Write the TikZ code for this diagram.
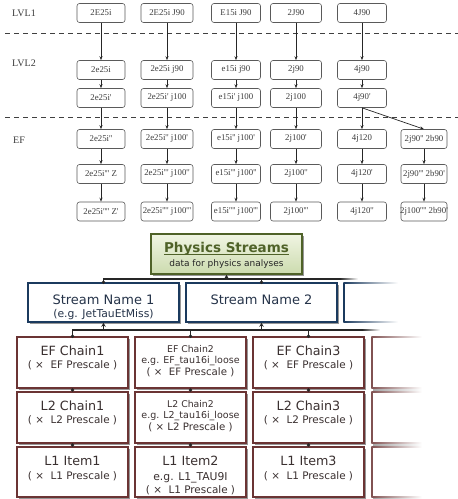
\documentclass[tikz,border=0pt]{standalone}
\usepackage{fontspec}
\setmainfont{DejaVu Sans}
\newfontfamily\tsf{Liberation Serif}
\usetikzlibrary{arrows.meta,shadows,calc}
\definecolor{tline}{HTML}{5A5A5A}
\definecolor{ttext}{HTML}{3C3C3C}
\definecolor{navyc}{HTML}{1B3A5E}
\definecolor{navyt}{HTML}{26344A}
\definecolor{maroonc}{HTML}{6B3434}
\definecolor{chaint}{HTML}{3A3030}
\definecolor{olivec}{HTML}{4F6228}
\definecolor{phtop}{HTML}{F0F5E3}
\definecolor{phbot}{HTML}{CCDBAE}
\newcommand\tbx[5]{\node[tbox,minimum width=#4pt] (#1) at (#2,#3) {\makebox[0pt]{#5}};}
\newcommand\lnx[5]{\node[lnode,font=\fontsize{#4}{#4}\selectfont] (#1) at (#2,#3) {#5};}
\begin{document}
\begin{tikzpicture}[x=1pt,y=-1pt,
 tbox/.style={draw=tline, rounded corners=2.5pt, line width=0.6pt, minimum height=19pt, inner sep=0pt, font=\tsf\fontsize{8.8}{9}\selectfont, text=ttext},
 tarr/.style={-{Stealth[length=4pt,width=3pt]}, line width=0.7pt, black!85},
 sepline/.style={dash pattern=on 5pt off 4pt, line width=0.6pt, black!75},
 lvl/.style={font=\tsf\fontsize{10}{11}\selectfont, text=ttext, inner sep=0pt},
 shd/.style={drop shadow={shadow xshift=1.5pt,shadow yshift=-1.5pt,fill=black!45,opacity=0.9}},
 psbox/.style={draw=olivec, line width=1.5pt, top color=phtop, bottom color=phbot, minimum width=151pt, minimum height=40pt, inner sep=0pt, shd},
 stbox/.style={draw=navyc, line width=1.6pt, fill=white, minimum width=151pt, minimum height=39pt, inner sep=0pt, shd},
 chbox/.style={draw=maroonc, line width=1.6pt, fill=white, minimum width=111pt, inner sep=0pt, shd},
 lnode/.style={anchor=base, inner sep=0pt, text=chaint},
 conn/.style={line width=1.1pt, black!85},
 carr/.style={conn, -{Stealth[length=4pt,width=4.5pt]}},
 dot/.style={black!85}
]
\fill[white] (0,0) rectangle (458,499);
\useasboundingbox (0,0) rectangle (458,499);

% ---------- top: trigger chain table ----------
\node[lvl] (lv1) at (24,13) {LVL1};
\node[lvl] (lv2) at (24,63) {LVL2};
\node[lvl] (lef) at (19,140) {EF};
\draw[sepline] (5,33) -- (458,33);
\draw[sepline] (5,117) -- (458,117);

\tbx{tA1}{101}{13}{48}{2E25i}
\tbx{tA2}{167}{13}{52}{2E25i J90}
\tbx{tA3}{236}{13}{49}{E15i J90}
\tbx{tA4}{296}{13}{51}{2J90}
\tbx{tA5}{362}{13}{49}{4J90}

\tbx{tB1}{101}{70}{48}{2e25i}
\tbx{tB2}{167}{70}{52}{2e25i j90}
\tbx{tB3}{236}{70}{49}{e15i j90}
\tbx{tB4}{296}{70}{51}{2j90}
\tbx{tB5}{362}{70}{49}{4j90}

\tbx{tC1}{101}{98}{48}{2e25i'}
\tbx{tC2}{167}{98}{52}{2e25i' j100}
\tbx{tC3}{236}{98}{49}{e15i' j100}
\tbx{tC4}{296}{98}{51}{2j100}
\tbx{tC5}{362}{98}{49}{4j90'}

\tbx{tD1}{101}{139}{48}{2e25i''}
\tbx{tD2}{167}{139}{52}{2e25i'' j100'}
\tbx{tD3}{236}{139}{49}{e15i'' j100'}
\tbx{tD4}{296}{139}{51}{2j100'}
\tbx{tD5}{362}{139}{49}{4j120}
\tbx{tD6}{424}{139}{46}{2j90'' 2b90}

\tbx{tE1}{101}{174}{48}{2e25i''' Z}
\tbx{tE2}{167}{174}{52}{2e25i''' j100''}
\tbx{tE3}{236}{174}{49}{e15i''' j100''}
\tbx{tE4}{296}{174}{51}{2j100''}
\tbx{tE5}{362}{174}{49}{4j120'}
\tbx{tE6}{424}{174}{46}{2j90''' 2b90'}

\tbx{tF1}{101}{211.5}{48}{2e25i'''' Z'}
\tbx{tF2}{167}{211.5}{52}{2e25i'''' j100'''}
\tbx{tF3}{236}{211.5}{49}{e15i'''' j100'''}
\tbx{tF4}{296}{211.5}{51}{2j100'''}
\tbx{tF5}{362}{211.5}{49}{4j120''}
\tbx{tF6}{424}{211.5}{46}{2j100'''' 2b90'}

\foreach \c in {1,...,5}{
  \draw[tarr] (tA\c.south) -- (tB\c.north);
  \draw[tarr] (tB\c.south) -- (tC\c.north);
  \draw[tarr] (tC\c.south) -- (tD\c.north);
  \draw[tarr] (tD\c.south) -- (tE\c.north);
  \draw[tarr] (tE\c.south) -- (tF\c.north);
}
\draw[tarr] (tC5.south) -- (tD6.north);
\draw[tarr] (tD6.south) -- (tE6.north);
\draw[tarr] (tE6.south) -- (tF6.north);

% ---------- bottom: physics streams ----------
\node[psbox] (ps) at (226.5,254) {};
\node[anchor=base, inner sep=0pt, text=olivec, font=\bfseries\fontsize{13.5}{14}\selectfont] (pst) at (226.5,252.5) {Physics Streams};
\draw[olivec, line width=0.9pt] (pst.west |- 0,254.8) -- (pst.east |- 0,254.8);
\node[anchor=base, inner sep=0pt, text=black!85, font=\fontsize{9}{9}\selectfont] (pss) at (226.5,266.5) {data for physics analyses};

\node[stbox] (s1) at (103.5,302.5) {};
\node[stbox] (s2) at (261.5,302.5) {};
\node[anchor=base, inner sep=0pt, text=navyt, font=\fontsize{13}{13}\selectfont] (s1t) at (103.5,304) {Stream Name 1};
\node[anchor=base, inner sep=0pt, text=navyt, font=\fontsize{10.8}{11}\selectfont] (s1e) at (103.5,317.5) {(e.g. JetTauEtMiss)};
\node[anchor=base, inner sep=0pt, text=navyt, font=\fontsize{13}{13}\selectfont] (s2t) at (261.5,304) {Stream Name 2};
% faded third stream box
\draw[navyc, line width=1.4pt] (344,283) -- (344,322);
\shade[left color=navyc, right color=white] (343.3,282.3) rectangle (398,283.7);
\shade[left color=navyc, right color=white] (343.3,321.3) rectangle (398,322.7);

% chain boxes
\foreach \n/\x in {1/72.5,2/190.5,3/308.5}{
  \node[chbox, minimum height=51pt] (e\n) at (\x,362.5) {};
  \node[chbox, minimum height=51pt] (m\n) at (\x,417.5) {};
  \node[chbox, minimum height=50pt] (k\n) at (\x,472) {};
}
% faded fourth column
\foreach \t/\b in {337/388,392/443,447/497}{
  \draw[maroonc!85, line width=1.2pt] (372,\t) -- (372,\b);
  \shade[left color=maroonc!85, right color=white] (371.4,\t-0.6) rectangle (422,\t+0.6);
  \shade[left color=maroonc!85, right color=white] (371.4,\b-0.6) rectangle (422,\b+0.6);
  \shade[left color=black!35, right color=white] (373,\b+1) rectangle (422,\b+2.4);
}

% texts EF row (T=337)
\lnx{e1a}{72.5}{355}{12.7}{EF Chain1}
\lnx{e1b}{72.5}{368.5}{10.4}{( ×~ EF Prescale )}
\lnx{e2a}{190.5}{352}{9.3}{EF Chain2}
\lnx{e2b}{190.5}{363.5}{9.5}{e.g. EF\_tau16i\_loose}
\lnx{e2c}{190.5}{375}{10.2}{( ×~ EF Prescale )}
\lnx{e3a}{308.5}{355}{12.7}{EF Chain3}
\lnx{e3b}{308.5}{368.5}{10.4}{( ×~ EF Prescale )}
% L2 row (T=392)
\lnx{m1a}{72.5}{410}{12.7}{L2 Chain1}
\lnx{m1b}{72.5}{423.5}{10.4}{( ×~ L2 Prescale )}
\lnx{m2a}{190.5}{407}{9.3}{L2 Chain2}
\lnx{m2b}{190.5}{418.5}{9.5}{e.g. L2\_tau16i\_loose}
\lnx{m2c}{190.5}{430.5}{10.2}{( × L2 Prescale )}
\lnx{m3a}{308.5}{410}{12.7}{L2 Chain3}
\lnx{m3b}{308.5}{423.5}{10.4}{( ×~ L2 Prescale )}
% L1 row (T=447)
\lnx{k1a}{72.5}{465.5}{12.7}{L1 Item1}
\lnx{k1b}{72.5}{479}{10.4}{( ×~ L1 Prescale )}
\lnx{k2a}{190.5}{465.5}{12.7}{L1 Item2}
\lnx{k2b}{190.5}{480.5}{10.8}{e.g. L1\_TAU9I}
\lnx{k2c}{190.5}{493}{10.4}{( ×~ L1 Prescale )}
\lnx{k3a}{308.5}{465.5}{12.7}{L1 Item3}
\lnx{k3b}{308.5}{479}{10.4}{( ×~ L1 Prescale )}

% connectors: streams -> physics
\coordinate (bus1) at (0,279);
\coordinate (bus1r) at (340,279);
\draw[conn] (s1.north) -- (s1.north |- bus1) -- (bus1r);
\shade[left color=black!85, right color=white] (340,278.45) rectangle (358,279.55);
\draw[conn] (s2.north) -- (s2.north |- bus1);
\draw[carr] (ps.south |- bus1) -- (ps.south);
\fill[dot] (s1.north) circle (1.9pt);
\fill[dot] (s2.north) circle (1.9pt);

% connectors: chains -> streams
\coordinate (bus2) at (0,330);
\coordinate (bus2r) at (362,330);
\draw[conn] (e1.north) -- (e1.north |- bus2) -- (bus2r);
\shade[left color=black!85, right color=white] (362,329.45) rectangle (380,330.55);
\draw[conn] (e2.north) -- (e2.north |- bus2);
\draw[conn] (e3.north) -- (e3.north |- bus2);
\draw[carr] (s1.south |- bus2) -- (s1.south);
\draw[carr] (s2.south |- bus2) -- (s2.south);
\foreach \n in {1,2,3}{
  \fill[dot] (e\n.north) circle (1.9pt);
  \draw[conn] (e\n.south) -- (m\n.north);
  \draw[conn] (m\n.south) -- (k\n.north);
  \fill[dot] ($(e\n.south)!0.5!(m\n.north)$) circle (1.9pt);
  \fill[dot] ($(m\n.south)!0.5!(k\n.north)$) circle (1.9pt);
}
\end{tikzpicture}
\end{document}
